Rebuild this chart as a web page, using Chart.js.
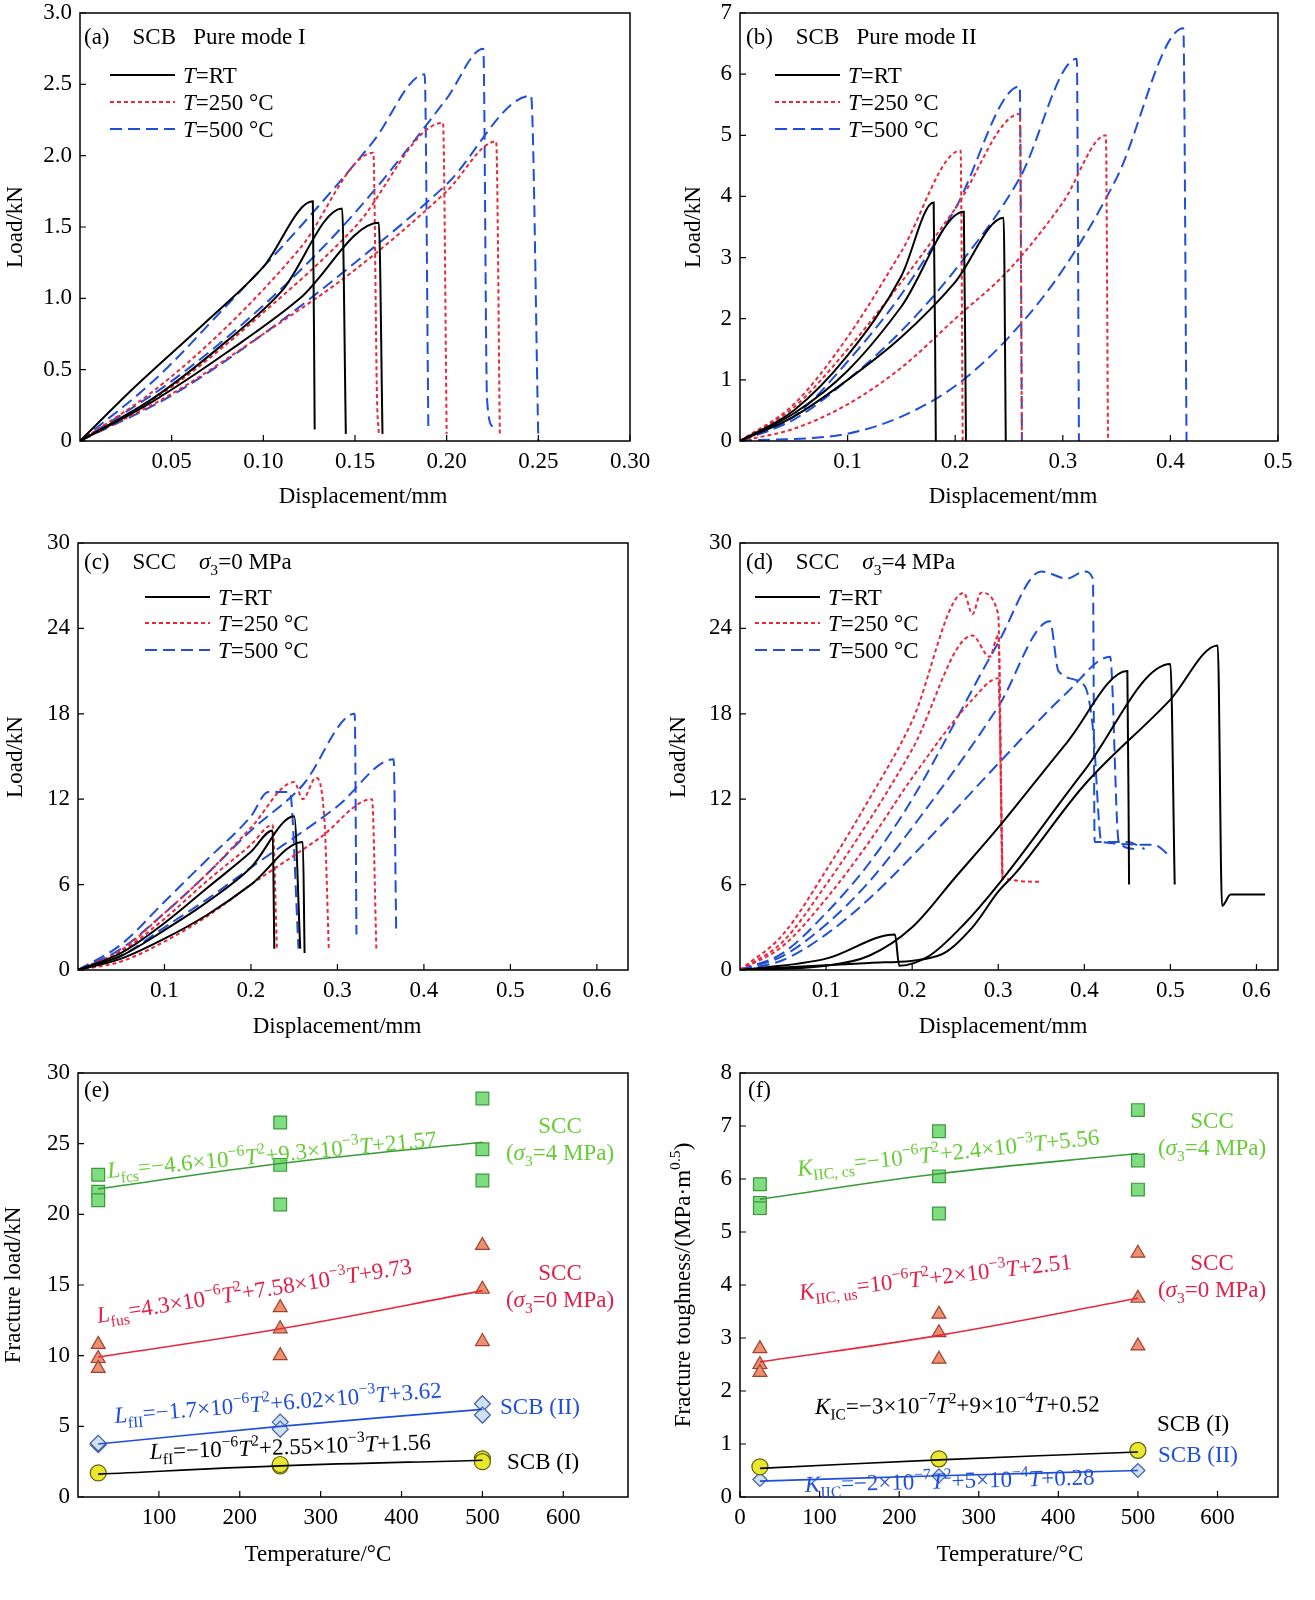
<!DOCTYPE html>
<html><head><meta charset="utf-8">
<script src="https://cdn.jsdelivr.net/npm/chart.js@4"></script>
<style>html,body{margin:0;background:#fff;width:1315px;height:1600px;position:relative;overflow:hidden}canvas{position:absolute}</style>
</head><body>
<script>
// ---------- DATA ----------
const aRT=[[[0,0],[0.03,0.38],[0.07,0.85],[0.1,1.22],[0.127,1.68],[0.128,0.08]],[[0,0],[0.04,0.3],[0.08,0.7],[0.11,1.05],[0.143,1.63],[0.145,0.05]],[[0,0],[0.04,0.28],[0.08,0.62],[0.12,1.0],[0.163,1.53],[0.165,0.05]]];
const a250=[[[0,0],[0.04,0.35],[0.08,0.8],[0.12,1.35],[0.16,2.02],[0.162,0.3],[0.163,0.05]],[[0,0],[0.05,0.38],[0.1,0.9],[0.15,1.5],[0.198,2.23],[0.2,0.05]],[[0,0],[0.05,0.33],[0.1,0.75],[0.15,1.2],[0.2,1.75],[0.227,2.1],[0.229,0.05]]];
const a500=[[[0,0],[0.04,0.42],[0.08,0.95],[0.12,1.5],[0.16,2.1],[0.188,2.57],[0.19,0.1]],[[0,0],[0.05,0.42],[0.1,0.95],[0.15,1.6],[0.2,2.4],[0.22,2.75],[0.222,0.3],[0.225,0.1]],[[0,0],[0.05,0.32],[0.1,0.75],[0.15,1.25],[0.2,1.8],[0.246,2.42],[0.25,0.0]]];
const bRT=[[[0,0],[0.05,0.5],[0.1,1.4],[0.15,2.7],[0.18,3.9],[0.182,0]],[[0,0],[0.05,0.45],[0.1,1.15],[0.15,2.2],[0.208,3.75],[0.21,0]],[[0,0],[0.05,0.4],[0.1,1.0],[0.15,1.7],[0.2,2.6],[0.245,3.65],[0.247,0]]];
const b250=[[[0,0],[0.05,0.6],[0.1,1.7],[0.15,3.1],[0.205,4.75],[0.207,0]],[[0,0],[0.05,0.55],[0.1,1.5],[0.15,2.6],[0.2,3.8],[0.26,5.35],[0.262,0]],[[0,0],[0.05,0.2],[0.1,0.6],[0.15,1.2],[0.2,2.0],[0.25,2.8],[0.3,3.9],[0.34,5.0],[0.342,0]]];
const b500=[[[0,0],[0.05,0.4],[0.1,1.3],[0.15,2.4],[0.2,3.8],[0.26,5.8],[0.262,0]],[[0,0],[0.05,0.35],[0.1,1.0],[0.15,1.8],[0.2,2.8],[0.26,4.3],[0.313,6.25],[0.315,0]],[[0,0],[0.1,0.12],[0.15,0.4],[0.2,0.9],[0.25,1.7],[0.3,2.8],[0.35,4.3],[0.412,6.75],[0.415,0]]];
const cRT=[[[0,0],[0.05,1.2],[0.1,3.3],[0.15,5.8],[0.2,8.3],[0.225,9.8],[0.227,1.5]],[[0,0],[0.05,1.0],[0.1,2.8],[0.15,4.8],[0.2,7.2],[0.25,10.8],[0.257,1.5]],[[0,0],[0.05,0.8],[0.1,2.2],[0.15,3.9],[0.2,6.0],[0.26,9.0],[0.262,1.2]]];
const c250=[[[0,0],[0.05,1.3],[0.1,3.6],[0.15,6.3],[0.2,8.8],[0.225,10.2],[0.23,1.5]],[[0,0],[0.05,1.4],[0.1,4],[0.15,6.8],[0.2,10],[0.25,13.2],[0.26,12],[0.275,13.5],[0.285,10.5],[0.29,1.5]],[[0,0],[0.05,0.6],[0.1,2],[0.15,3.8],[0.2,6],[0.28,9.3],[0.34,12],[0.345,1.5]]];
const c500=[[[0,0],[0.05,1.8],[0.1,4.8],[0.15,7.8],[0.2,10.8],[0.22,12.5],[0.245,12.5],[0.255,1.5]],[[0,0],[0.05,1.5],[0.1,4],[0.15,6.8],[0.2,9.8],[0.26,13],[0.32,18],[0.322,2.5]],[[0,0],[0.05,1.0],[0.1,3],[0.15,5],[0.2,7.2],[0.3,11.5],[0.365,14.8],[0.368,2.5]]];
const dRT=[[[0,0],[0.1,0.3],[0.15,1],[0.2,3],[0.25,6.5],[0.3,10],[0.38,16],[0.45,21],[0.452,6]],[[0,0],[0.1,0.8],[0.18,2.5],[0.185,0.3],[0.22,1],[0.26,3.2],[0.3,6],[0.4,14],[0.5,21.5],[0.505,6]],[[0,0],[0.15,0.5],[0.23,1],[0.27,3],[0.3,5.5],[0.32,6.8],[0.4,13],[0.5,19],[0.555,22.8],[0.56,4.5],[0.57,5.3],[0.61,5.3]]];
const d250=[[[0,0],[0.05,2.5],[0.1,7],[0.15,12],[0.2,17.5],[0.26,26.5],[0.27,25],[0.28,26.5],[0.3,25],[0.305,6.5],[0.35,6.2]],[[0,0],[0.05,2],[0.1,6],[0.15,10.5],[0.2,15.5],[0.27,23.5],[0.29,22],[0.3,23.5],[0.305,6.2]],[[0,0],[0.05,1.7],[0.1,5],[0.15,9],[0.2,13.5],[0.27,19],[0.3,20.5],[0.305,6.5]]];
const d500=[[[0,0],[0.05,1.2],[0.1,4],[0.15,7.5],[0.2,12],[0.3,23],[0.35,28],[0.38,27.5],[0.4,28],[0.41,27.5],[0.412,9],[0.45,9],[0.47,8.5]],[[0,0],[0.05,1],[0.1,3.2],[0.15,6.2],[0.2,10],[0.3,18.5],[0.36,24.5],[0.37,21],[0.4,20],[0.41,17],[0.42,9],[0.48,8.8],[0.5,8]],[[0,0],[0.05,0.7],[0.1,2.5],[0.15,5],[0.2,8],[0.3,14.5],[0.38,19.5],[0.43,22],[0.44,9],[0.46,8.5]]];
const temps=[25,250,500];
const eGreen=[[22.8,21.6,21.0],[26.5,23.5,20.7],[28.2,24.6,22.4]];
const eRed=[[10.8,9.8,9.1],[13.4,11.9,10.0],[17.8,14.7,11.0]];
const eBlue=[[3.7,3.8],[5.3,4.8],[6.6,5.8]];
const eYellow=[[1.7],[2.2,2.3],[2.7,2.5]];
const eFitG=[21.8,23.6,25.1], eFitR=[9.9,11.9,14.6], eFitB=[3.75,5.0,6.2], eFitK=[1.62,2.2,2.6];
const fGreen=[[5.9,5.55,5.45],[6.9,6.05,5.35],[7.3,6.35,5.8]];
const fRed=[[2.8,2.5,2.35],[3.45,3.1,2.6],[4.6,3.75,2.85]];
const fBlack=[[0.57],[0.72],[0.88]];
const fBlue=[[0.33],[0.4],[0.5]];
const fFitG=[5.62,6.1,6.48], fFitR=[2.55,3.05,3.75], fFitK=[0.54,0.7,0.85], fFitB=[0.3,0.4,0.5];
const ticksA={x:[0.05,0.1,0.15,0.2,0.25,0.3],xl:['0.05','0.10','0.15','0.20','0.25','0.30'],y:[0,0.5,1,1.5,2,2.5,3],yl:['0','0.5','1.0','1.5','2.0','2.5','3.0']};
const ticksB={x:[0.1,0.2,0.3,0.4,0.5],xl:['0.1','0.2','0.3','0.4','0.5'],y:[0,1,2,3,4,5,6,7],yl:['0','1','2','3','4','5','6','7']};
const ticksCD={x:[0.1,0.2,0.3,0.4,0.5,0.6],xl:['0.1','0.2','0.3','0.4','0.5','0.6'],y:[0,6,12,18,24,30],yl:['0','6','12','18','24','30']};
const ticksE={x:[100,200,300,400,500,600],xl:['100','200','300','400','500','600'],y:[0,5,10,15,20,25,30],yl:['0','5','10','15','20','25','30']};
const ticksF={x:[0,100,200,300,400,500,600],xl:['0','100','200','300','400','500','600'],y:[0,1,2,3,4,5,6,7,8],yl:['0','1','2','3','4','5','6','7','8']};
// ---------- STYLE ----------
const SERIF='"Liberation Serif", "DejaVu Serif", serif';
const CK='#000', CR='#e8283c', CB='#1f4fd8', CG='#3a9a3a';
function rich(ctx,segs,x,y,o){
  const size=o.size||23; ctx.save(); ctx.translate(x,y); ctx.rotate((o.angle||0)*Math.PI/180);
  ctx.fillStyle=o.color||'#000'; ctx.textBaseline='alphabetic';
  const parts=segs.map(s=>{let t='n',txt=s; if(/^[_^*]/.test(s)){t=s[0];txt=s.slice(1);} const sz=(t==='_'||t==='^')?size*0.68:size; const f=(t==='*'?'italic ':'')+sz+'px '+SERIF; ctx.font=f; return {t,txt,f,w:ctx.measureText(txt).width};});
  const W=parts.reduce((a,p)=>a+p.w,0); let cx=o.align==='center'?-W/2:0;
  parts.forEach(p=>{ctx.font=p.f; const dy=p.t==='_'?size*0.25:p.t==='^'?-size*0.42:0; ctx.fillText(p.txt,cx,dy); cx+=p.w;});
  ctx.restore();
}
function lineDs(arr,color,dash){return arr.map(c=>({data:c.map(p=>({x:p[0],y:p[1]})),borderColor:color,borderWidth:2,borderDash:dash,showLine:true,pointRadius:0,cubicInterpolationMode:'monotone'}));}
function ptDs(vals,style,fill,stroke,r){const d=[];vals.forEach((v,i)=>v.forEach(y=>d.push({x:temps[i],y})));return {data:d,showLine:false,pointStyle:style,pointRadius:r||9,backgroundColor:fill,borderColor:stroke,borderWidth:1.2};}
function fitDs(v,color){return {data:v.map((y,i)=>({x:temps[i],y})),borderColor:color,borderWidth:1.6,showLine:true,pointRadius:0,tension:0.4};}
function legend(x1,x2,xt,ys){return [
 {type:'line',x1,x2,y:ys[0],color:CK,dash:[]},{type:'text',x:xt,y:ys[0]+8,segs:['*T','=RT']},
 {type:'line',x1,x2,y:ys[1],color:CR,dash:[4,3]},{type:'text',x:xt,y:ys[1]+8,segs:['*T','=250 °C']},
 {type:'line',x1,x2,y:ys[2],color:CB,dash:[12,6]},{type:'text',x:xt,y:ys[2]+8,segs:['*T','=500 °C']}];}
function make(cv,plot,xr,yr,tk,datasets,ann){
  const c=document.createElement('canvas'); c.width=cv[2]; c.height=cv[3];
  c.style.left=cv[0]+'px'; c.style.top=cv[1]+'px'; c.style.width=cv[2]+'px'; c.style.height=cv[3]+'px';
  document.body.appendChild(c);
  const yw=plot[0]-cv[0], xh=cv[1]+cv[3]-plot[3];
  new Chart(c,{type:'scatter',data:{datasets},options:{responsive:false,animation:false,devicePixelRatio:1,
    layout:{padding:{left:0,top:plot[1]-cv[1],right:cv[0]+cv[2]-plot[2],bottom:0}},
    plugins:{legend:{display:false},tooltip:{enabled:false}},
    scales:{
      x:{type:'linear',min:xr[0],max:xr[1],grid:{display:false},border:{display:false},
        afterBuildTicks:s=>{s.ticks=tk.x.map(v=>({value:v}));},afterFit:s=>{s.height=xh;},ticks:{display:false}},
      y:{type:'linear',min:yr[0],max:yr[1],grid:{display:false},border:{display:false},
        afterBuildTicks:s=>{s.ticks=tk.y.map(v=>({value:v}));},afterFit:s=>{s.width=yw;},ticks:{display:false}}}},
    plugins:[{id:'deco',afterDraw(ch){
      const ctx=ch.ctx,a=ch.chartArea,xs=ch.scales.x,ys=ch.scales.y;
      ctx.save(); ctx.strokeStyle='#000'; ctx.lineWidth=1.5; ctx.strokeRect(a.left,a.top,a.right-a.left,a.bottom-a.top);
      ctx.lineWidth=1.2; ctx.beginPath();
      tk.x.forEach(v=>{const p=xs.getPixelForValue(v);ctx.moveTo(p,a.bottom);ctx.lineTo(p,a.bottom-6);});
      tk.y.forEach(v=>{const p=ys.getPixelForValue(v);ctx.moveTo(a.left,p);ctx.lineTo(a.left+6,p);});
      ctx.stroke();
      ctx.fillStyle='#000'; ctx.font='23px '+SERIF;
      ctx.textAlign='center'; ctx.textBaseline='top';
      tk.x.forEach((v,i)=>ctx.fillText(tk.xl[i],xs.getPixelForValue(v),a.bottom+9));
      ctx.textAlign='right'; ctx.textBaseline='middle';
      tk.y.forEach((v,i)=>ctx.fillText(tk.yl[i],a.left-8,ys.getPixelForValue(v)));
      ctx.textAlign='left';
      ann.forEach(n=>{
        if(n.type==='line'){ctx.strokeStyle=n.color;ctx.lineWidth=2;ctx.setLineDash(n.dash);ctx.beginPath();ctx.moveTo(n.x1-cv[0],n.y-cv[1]);ctx.lineTo(n.x2-cv[0],n.y-cv[1]);ctx.stroke();ctx.setLineDash([]);}
        else rich(ctx,n.segs,n.x-cv[0],n.y-cv[1],{size:n.size||23,color:n.color,angle:n.angle,align:n.align});
      });
      ctx.restore();}}]
  });
}
const L=(arr,col,d)=>lineDs(arr,col,d);
const DOT=[4,3], DASH=[12,6];
// (a)
make([0,0,650,520],[80,13,630,441],[0,0.3],[0,3],ticksA,[...L(aRT,CK,[]),...L(a250,CR,DOT),...L(a500,CB,DASH)],
 [{type:'text',x:84,y:44,segs:['(a)    SCB   Pure mode I']},...legend(110,175,183,[75,102,129]),
  {type:'text',x:363,y:503,segs:['Displacement/mm'],align:'center'},{type:'text',x:22,y:227,segs:['Load/kN'],align:'center',angle:-90}]);
// (b)
make([655,0,660,520],[740,13,1278,441],[0,0.5],[0,7],ticksB,[...L(bRT,CK,[]),...L(b250,CR,DOT),...L(b500,CB,DASH)],
 [{type:'text',x:746,y:44,segs:['(b)    SCB   Pure mode II']},...legend(775,840,848,[75,102,129]),
  {type:'text',x:1013,y:503,segs:['Displacement/mm'],align:'center'},{type:'text',x:700,y:227,segs:['Load/kN'],align:'center',angle:-90}]);
// (c)
make([0,525,650,520],[78,543,628,970],[0,0.636],[0,30],ticksCD,[...L(cRT,CK,[]),...L(c250,CR,DOT),...L(c500,CB,DASH)],
 [{type:'text',x:84,y:569,segs:['(c)    SCC    ','*σ','_3','=0 MPa']},...legend(145,210,218,[597,623,650]),
  {type:'text',x:337,y:1033,segs:['Displacement/mm'],align:'center'},{type:'text',x:22,y:757,segs:['Load/kN'],align:'center',angle:-90}]);
// (d)
make([655,525,660,520],[740,543,1278,970],[0,0.625],[0,30],ticksCD,[...L(dRT,CK,[]),...L(d250,CR,DOT),...L(d500,CB,DASH)],
 [{type:'text',x:746,y:569,segs:['(d)    SCC    ','*σ','_3','=4 MPa']},...legend(755,820,828,[597,623,650]),
  {type:'text',x:1003,y:1033,segs:['Displacement/mm'],align:'center'},{type:'text',x:685,y:757,segs:['Load/kN'],align:'center',angle:-90}]);
// (e)
const GT='#66cc33', RT2='#e0204a';
make([0,1050,650,550],[78,1073,628,1497],[0,680],[0,30],ticksE,[
  fitDs(eFitG,CG),fitDs(eFitR,CR),fitDs(eFitB,CB),fitDs(eFitK,CK),
  ptDs(eGreen,'rect','#80dc80','#3a9a3a',9),ptDs(eRed,'triangle','#ec9070','#a04030',8),
  ptDs(eBlue,'rectRot','#d0e0f4','#4060a0',8),ptDs(eYellow,'circle','#e8e830','#606000',8)],
 [{type:'text',x:84,y:1097,segs:['(e)']},
  {type:'text',x:108,y:1178,segs:['*L','_fcs','=−4.6×10','^−6','*T','^2','+9.3×10','^−3','*T','+21.57'],color:GT,angle:-5.5},
  {type:'text',x:98,y:1323,segs:['*L','_fus','=4.3×10','^−6','*T','^2','+7.58×10','^−3','*T','+9.73'],color:RT2,angle:-9},
  {type:'text',x:115,y:1423,segs:['*L','_fII','=−1.7×10','^−6','*T','^2','+6.02×10','^−3','*T','+3.62'],color:CB,angle:-4.5},
  {type:'text',x:150,y:1459,segs:['*L','_fI','=−10','^−6','*T','^2','+2.55×10','^−3','*T','+1.56'],color:CK,angle:-2},
  {type:'text',x:560,y:1133,segs:['SCC'],color:GT,align:'center'},{type:'text',x:560,y:1160,segs:['(','*σ','_3','=4 MPa)'],color:GT,align:'center'},
  {type:'text',x:560,y:1280,segs:['SCC'],color:RT2,align:'center'},{type:'text',x:560,y:1307,segs:['(','*σ','_3','=0 MPa)'],color:RT2,align:'center'},
  {type:'text',x:500,y:1414,segs:['SCB (II)'],color:CB},{type:'text',x:507,y:1469,segs:['SCB (I)'],color:CK},
  {type:'text',x:318,y:1561,segs:['Temperature/°C'],align:'center'},{type:'text',x:20,y:1285,segs:['Fracture load/kN'],align:'center',angle:-90}]);
// (f)
make([655,1050,660,550],[740,1073,1278,1497],[0,676],[0,8],ticksF,[
  fitDs(fFitG,CG),fitDs(fFitR,CR),fitDs(fFitK,CK),fitDs(fFitB,CB),
  ptDs(fGreen,'rect','#80dc80','#3a9a3a',9),ptDs(fRed,'triangle','#ec9070','#a04030',8),
  ptDs(fBlack,'circle','#e8e830','#606000',8),ptDs(fBlue,'rectRot','#d0e0f4','#4060a0',7)],
 [{type:'text',x:748,y:1097,segs:['(f)']},
  {type:'text',x:798,y:1176,segs:['*K','_IIC, cs','=−10','^−6','*T','^2','+2.4×10','^−3','*T','+5.56'],color:GT,angle:-6},
  {type:'text',x:800,y:1300,segs:['*K','_IIC, us','=10','^−6','*T','^2','+2×10','^−3','*T','+2.51'],color:RT2,angle:-6.5},
  {type:'text',x:815,y:1414,segs:['*K','_IC','=−3×10','^−7','*T','^2','+9×10','^−4','*T','+0.52'],color:CK,angle:-0.5},
  {type:'text',x:805,y:1492,segs:['*K','_IIC','=−2×10','^−7','*T','^2','+5×10','^−4','*T','+0.28'],color:CB,angle:-1.5},
  {type:'text',x:1212,y:1128,segs:['SCC'],color:GT,align:'center'},{type:'text',x:1212,y:1155,segs:['(','*σ','_3','=4 MPa)'],color:GT,align:'center'},
  {type:'text',x:1212,y:1270,segs:['SCC'],color:RT2,align:'center'},{type:'text',x:1212,y:1297,segs:['(','*σ','_3','=0 MPa)'],color:RT2,align:'center'},
  {type:'text',x:1157,y:1431,segs:['SCB (I)'],color:CK},{type:'text',x:1158,y:1462,segs:['SCB (II)'],color:CB},
  {type:'text',x:1010,y:1561,segs:['Temperature/°C'],align:'center'},{type:'text',x:690,y:1285,segs:['Fracture toughness/(MPa·m','^0.5',')'],align:'center',angle:-90}]);
</script>
</body></html>
